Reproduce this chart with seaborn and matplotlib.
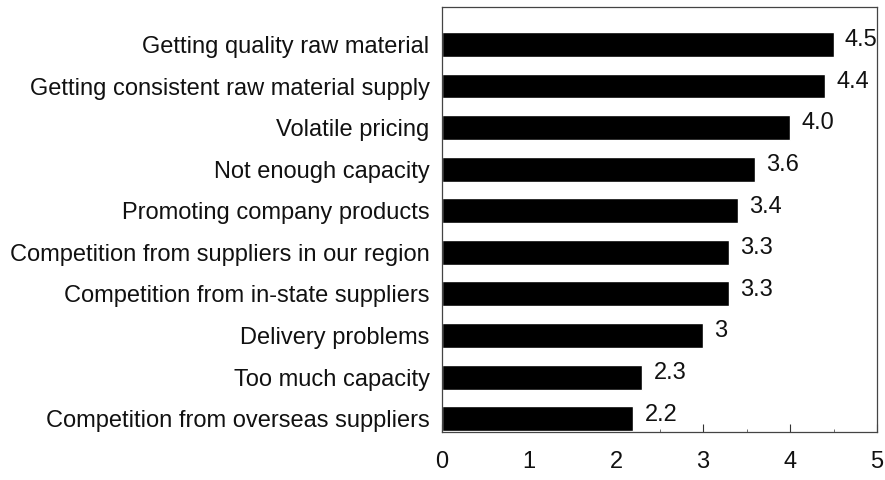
import matplotlib
matplotlib.use("Agg")
import matplotlib.pyplot as plt
from matplotlib.ticker import MultipleLocator
import seaborn as sns
import pandas as pd

categories = [
    "Getting quality raw material",
    "Getting consistent raw material supply",
    "Volatile pricing",
    "Not enough capacity",
    "Promoting company products",
    "Competition from suppliers in our region",
    "Competition from in-state suppliers",
    "Delivery problems",
    "Too much capacity",
    "Competition from overseas suppliers",
]
values = [4.5, 4.4, 4.0, 3.6, 3.4, 3.3, 3.3, 3.0, 2.3, 2.2]
value_labels = ["4.5", "4.4", "4.0", "3.6", "3.4", "3.3", "3.3", "3", "2.3", "2.2"]
x_ticks = [0, 1, 2, 3, 4, 5]

df = pd.DataFrame({"issue": categories, "score": values})

sns.set_theme(style="white")
plt.rcParams["font.family"] = ["Liberation Sans", "DejaVu Sans"]

fig = plt.figure(figsize=(8.85, 4.8), dpi=100)
ax = fig.add_axes([442 / 885, 1 - 432 / 480, (877 - 442) / 885, (432 - 7) / 480])

sns.barplot(data=df, x="score", y="issue", orient="h", color="black",
            width=0.6, ax=ax, saturation=1)

for i, (v, lab) in enumerate(zip(values, value_labels)):
    ax.text(v + 0.13, i - 0.1, lab, va="center", ha="left",
            fontsize=17, color="#111111")

ax.set_xlim(0, 5)
ax.set_ylim(9.32, -0.9)
ax.set_xticks(x_ticks)
ax.set_xticklabels([str(t) for t in x_ticks])
ax.xaxis.set_minor_locator(MultipleLocator(0.5))
ax.tick_params(axis="x", which="major", direction="in", length=6, width=0.8,
               color="#333333", pad=14, labelsize=17, bottom=True)
ax.tick_params(axis="x", which="minor", direction="in", length=2.5, width=0.6,
               color="#555555", bottom=True)
ax.tick_params(axis="y", length=0, pad=9, labelsize=17)
ax.set_xlabel("")
ax.set_ylabel("")
for sp in ax.spines.values():
    sp.set_visible(True)
    sp.set_color("#444444")
    sp.set_linewidth(0.9)
for t in ax.get_xticklabels() + ax.get_yticklabels():
    t.set_color("#111111")

fig.savefig("out.png", dpi=100)
